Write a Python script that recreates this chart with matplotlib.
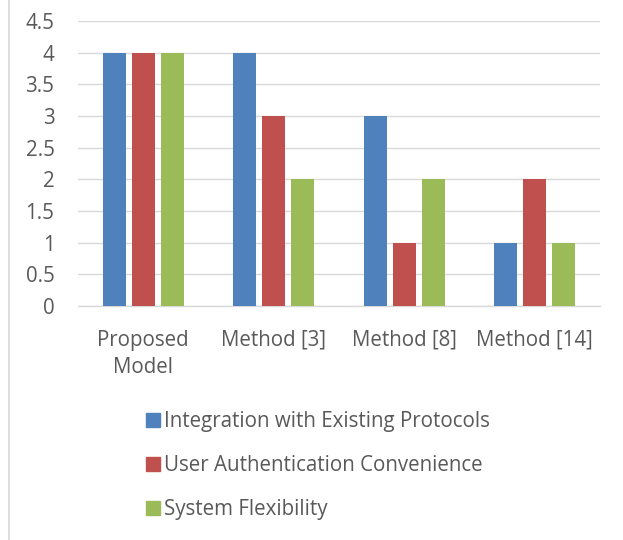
import matplotlib
matplotlib.use("Agg")
import matplotlib.pyplot as plt
import numpy as np
from matplotlib.lines import Line2D

categories = ["Proposed\nModel", "Method [3]", "Method [8]", "Method [14]"]
series_names = ["Integration with Existing Protocols",
                "User Authentication Convenience",
                "System Flexibility"]
integration = [4, 4, 3, 1]
user_auth = [4, 3, 1, 2]
flexibility = [4, 2, 2, 1]
yticks = [0, 0.5, 1, 1.5, 2, 2.5, 3, 3.5, 4, 4.5]
ytick_labels = ["0", "0.5", "1", "1.5", "2", "2.5", "3", "3.5", "4", "4.5"]

colors = ["#4F81BD", "#C0504D", "#9BBB59"]
text_color = "#595959"
grid_color = "#D9D9D9"
font = ["Open Sans", "DejaVu Sans"]
plt.rcParams['font.family'] = font
FS = 14.8

W, H = 623, 540
fig = plt.figure(figsize=(W / 100, H / 100), dpi=100)
ax = fig.add_axes([78 / W, 1 - 306 / H, (600 - 78) / W, (306 - 21) / H])

x = np.arange(len(categories))
width = 0.176
step = 0.222
for i, vals in enumerate([integration, user_auth, flexibility]):
    ax.bar(x + (i - 1) * step, vals, width=width, color=colors[i], zorder=3,
           label=series_names[i])

ax.set_xlim(-0.5, len(categories) - 0.5)
ax.set_ylim(0, 4.5)
ax.set_yticks(yticks)
ax.set_yticklabels(ytick_labels)
ax.set_xticks(x)
ax.set_xticklabels(categories, linespacing=1.4, va="top")
ax.tick_params(axis="both", length=0, colors=text_color, labelsize=FS)
ax.tick_params(axis="x", pad=17)
ax.tick_params(axis="y", pad=17)
for lab in ax.get_yticklabels():
    lab.set_color(text_color)
for lab in ax.get_xticklabels():
    lab.set_color(text_color)
ax.yaxis.grid(True, color=grid_color, linewidth=1.0, zorder=0)
for s in ["top", "right", "left"]:
    ax.spines[s].set_visible(False)
ax.spines["bottom"].set_color(grid_color)
ax.spines["bottom"].set_linewidth(1.0)

handles = [Line2D([], [], marker="s", linestyle="none", markersize=9.5,
                  markerfacecolor=c, markeredgecolor=c) for c in colors]
fig.legend(handles, series_names, loc="upper left",
           bbox_to_anchor=(138 / W, 1 - 403 / H), frameon=False,
           fontsize=FS, labelcolor=text_color, handlelength=0.7,
           handletextpad=0.15, labelspacing=1.12, borderaxespad=0)

fig.add_artist(Line2D([8.5 / W, 8.5 / W], [0, 1], color=grid_color,
                      linewidth=1.2, transform=fig.transFigure))

fig.savefig("out.png", dpi=100)
